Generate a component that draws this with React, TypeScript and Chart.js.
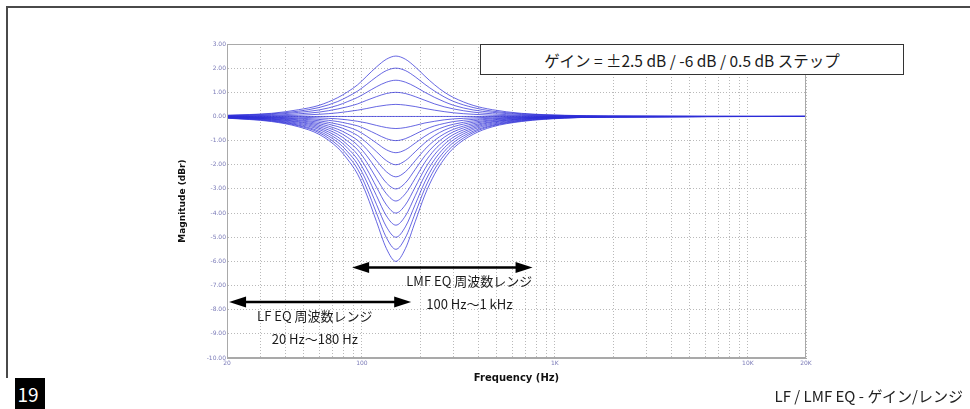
import React, { useEffect, useRef } from 'react';
import { Chart, registerables } from 'chart.js';

Chart.register(...registerables);

const FREQ_HZ = [20, 34, 47, 60, 75, 84, 95, 106, 119, 134, 150, 168, 189, 212, 238, 267, 299, 377, 474, 670, 1125, 1888, 20000];

// Gain settings (dB), one curve each
const GAIN_STEPS_DB = [2.5, 2, 1.5, 1, 0.5, 0, -0.5, -1, -1.5, -2, -2.5, -3, -3.5, -4, -4.5, -5, -5.5, -6];

// Magnitude (dBr) per curve
const RESP_P2_5 = [0.05, 0.13, 0.28, 0.46, 0.78, 1.01, 1.31, 1.67, 2.05, 2.37, 2.5, 2.37, 2.05, 1.67, 1.31, 1.01, 0.78, 0.46, 0.28, 0.13, 0.05, 0.02, 0];
const RESP_P2_0 = [0.04, 0.11, 0.22, 0.37, 0.62, 0.81, 1.05, 1.33, 1.64, 1.9, 2.0, 1.9, 1.64, 1.33, 1.05, 0.81, 0.62, 0.37, 0.22, 0.11, 0.04, 0.01, 0];
const RESP_P1_5 = [0.03, 0.08, 0.17, 0.27, 0.46, 0.61, 0.79, 1.0, 1.23, 1.42, 1.5, 1.42, 1.23, 1.0, 0.79, 0.61, 0.46, 0.27, 0.17, 0.08, 0.03, 0.01, 0];
const RESP_P1_0 = [0.02, 0.05, 0.11, 0.18, 0.31, 0.4, 0.52, 0.67, 0.82, 0.95, 1.0, 0.95, 0.82, 0.67, 0.52, 0.4, 0.31, 0.18, 0.11, 0.05, 0.02, 0.01, 0];
const RESP_P0_5 = [0.01, 0.03, 0.05, 0.09, 0.15, 0.2, 0.26, 0.33, 0.41, 0.47, 0.5, 0.47, 0.41, 0.33, 0.26, 0.2, 0.15, 0.09, 0.05, 0.03, 0.01, 0, 0];
const RESP_0_0 = [0, 0, 0, 0, 0, 0, 0, 0, 0, 0, 0, 0, 0, 0, 0, 0, 0, 0, 0, 0, 0, 0, 0];
const RESP_M0_5 = [-0.01, -0.02, -0.03, -0.06, -0.1, -0.14, -0.2, -0.27, -0.37, -0.46, -0.5, -0.46, -0.37, -0.27, -0.2, -0.14, -0.1, -0.06, -0.03, -0.02, -0.01, 0, 0];
const RESP_M1_0 = [-0.01, -0.03, -0.07, -0.12, -0.21, -0.29, -0.39, -0.54, -0.73, -0.92, -1.0, -0.92, -0.73, -0.54, -0.39, -0.29, -0.21, -0.12, -0.07, -0.03, -0.01, 0, 0];
const RESP_M1_5 = [-0.02, -0.05, -0.1, -0.18, -0.32, -0.43, -0.59, -0.82, -1.1, -1.38, -1.5, -1.38, -1.1, -0.82, -0.59, -0.43, -0.32, -0.18, -0.1, -0.05, -0.02, -0.01, 0];
const RESP_M2_0 = [-0.02, -0.06, -0.14, -0.24, -0.42, -0.57, -0.79, -1.09, -1.46, -1.83, -2.0, -1.83, -1.46, -1.09, -0.79, -0.57, -0.42, -0.24, -0.14, -0.06, -0.02, -0.01, 0];
const RESP_M2_5 = [-0.03, -0.08, -0.17, -0.3, -0.53, -0.72, -0.99, -1.36, -1.83, -2.29, -2.5, -2.29, -1.83, -1.36, -0.99, -0.72, -0.53, -0.3, -0.17, -0.08, -0.03, -0.01, 0];
const RESP_M3_0 = [-0.03, -0.1, -0.21, -0.36, -0.63, -0.86, -1.19, -1.63, -2.19, -2.75, -3.0, -2.75, -2.19, -1.63, -1.19, -0.86, -0.63, -0.36, -0.21, -0.1, -0.03, -0.01, 0];
const RESP_M3_5 = [-0.04, -0.11, -0.24, -0.42, -0.74, -1.01, -1.38, -1.9, -2.56, -3.2, -3.5, -3.2, -2.56, -1.9, -1.38, -1.01, -0.74, -0.42, -0.24, -0.11, -0.04, -0.01, 0];
const RESP_M4_0 = [-0.04, -0.13, -0.28, -0.48, -0.85, -1.16, -1.58, -2.17, -2.92, -3.66, -4.0, -3.66, -2.92, -2.17, -1.58, -1.16, -0.85, -0.48, -0.28, -0.13, -0.04, -0.02, 0];
const RESP_M4_5 = [-0.05, -0.15, -0.32, -0.54, -0.96, -1.3, -1.78, -2.44, -3.28, -4.12, -4.5, -4.12, -3.28, -2.44, -1.78, -1.3, -0.96, -0.54, -0.32, -0.15, -0.05, -0.02, 0];
const RESP_M5_0 = [-0.06, -0.17, -0.36, -0.61, -1.07, -1.45, -1.98, -2.71, -3.64, -4.57, -5.0, -4.57, -3.64, -2.71, -1.98, -1.45, -1.07, -0.61, -0.36, -0.17, -0.06, -0.02, 0];
const RESP_M5_5 = [-0.06, -0.19, -0.39, -0.67, -1.19, -1.6, -2.18, -2.98, -4.0, -5.02, -5.5, -5.02, -4.0, -2.98, -2.18, -1.6, -1.19, -0.67, -0.39, -0.19, -0.06, -0.02, 0];
const RESP_M6_0 = [-0.07, -0.21, -0.43, -0.74, -1.3, -1.76, -2.39, -3.25, -4.35, -5.47, -6.0, -5.47, -4.35, -3.25, -2.39, -1.76, -1.3, -0.74, -0.43, -0.21, -0.07, -0.02, 0];

const RESPONSES = [
  RESP_P2_5, RESP_P2_0, RESP_P1_5, RESP_P1_0, RESP_P0_5, RESP_0_0,
  RESP_M0_5, RESP_M1_0, RESP_M1_5, RESP_M2_0, RESP_M2_5, RESP_M3_0,
  RESP_M3_5, RESP_M4_0, RESP_M4_5, RESP_M5_0, RESP_M5_5, RESP_M6_0,
];

// Axes
const Y_TICKS_DB = [3, 2, 1, 0, -1, -2, -3, -4, -5, -6, -7, -8, -9, -10];
const X_GRID_HZ = [20, 30, 40, 50, 60, 70, 80, 90, 100, 200, 300, 400, 500, 600, 700, 800, 900, 1000, 2000, 3000, 4000, 5000, 6000, 7000, 8000, 9000, 10000, 20000];
const X_LABEL_HZ = [20, 100, 1000, 10000, 20000];
const X_LABEL_TEXT = ['20', '100', '1K', '10K', '20K'];

// Range annotations
const LMF_RANGE_HZ = [89, 766];
const LMF_ARROW_DB = -6.25;
const LMF_LABEL_HZ = 360;
const LMF_LABEL = ['LMF EQ 周波数レンジ', '100 Hz〜1 kHz'];
const LF_RANGE_HZ = [20.5, 180];
const LF_ARROW_DB = -7.68;
const LF_LABEL_HZ = 57;
const LF_LABEL = ['LF EQ 周波数レンジ', '20 Hz〜180 Hz'];

const LEGEND_TEXT = 'ゲイン = ±2.5 dB / -6 dB / 0.5 dB ステップ';
const PAGE_NUMBER = '19';
const FOOTER_TITLE = 'LF / LMF EQ - ゲイン/レンジ';

const Y_LEFT_PAD = 177;

function drawArrow(ctx: CanvasRenderingContext2D, x1: number, x2: number, y: number) {
  const head = 17;
  const half = 5.5;
  ctx.beginPath();
  ctx.moveTo(x1 + head - 2, y);
  ctx.lineTo(x2 - head + 2, y);
  ctx.stroke();
  ctx.beginPath();
  ctx.moveTo(x1, y);
  ctx.lineTo(x1 + head, y - half);
  ctx.lineTo(x1 + head, y + half);
  ctx.closePath();
  ctx.fill();
  ctx.beginPath();
  ctx.moveTo(x2, y);
  ctx.lineTo(x2 - head, y - half);
  ctx.lineTo(x2 - head, y + half);
  ctx.closePath();
  ctx.fill();
}

const annotPlugin = {
  id: 'annot',
  afterDatasetsDraw(chart: any) {
    const { ctx, chartArea: a, scales } = chart;
    const xs = scales.x;
    const ys = scales.y;
    ctx.save();
    ctx.strokeStyle = '#a9a9a9';
    ctx.lineWidth = 1;
    ctx.strokeRect(a.left + 0.5, a.top + 0.5, a.right - a.left - 1, a.bottom - a.top - 1);

    ctx.strokeStyle = '#000';
    ctx.fillStyle = '#000';
    ctx.lineWidth = 2.5;
    const groups = [
      { r: LMF_RANGE_HZ, db: LMF_ARROW_DB, lx: LMF_LABEL_HZ, label: LMF_LABEL },
      { r: LF_RANGE_HZ, db: LF_ARROW_DB, lx: LF_LABEL_HZ, label: LF_LABEL },
    ];
    groups.forEach((g) => {
      const x1 = xs.getPixelForValue(g.r[0]);
      const x2 = xs.getPixelForValue(g.r[1]);
      const y = ys.getPixelForValue(g.db);
      drawArrow(ctx, x1, x2, y);
      const tx = xs.getPixelForValue(g.lx);
      ctx.font = '13px "Noto Sans CJK JP"';
      ctx.fillStyle = '#1a1a1a';
      ctx.textAlign = 'center';
      ctx.textBaseline = 'middle';
      ctx.fillText(g.label[0], tx, y + 14);
      ctx.fillText(g.label[1], tx, y + 37);
      ctx.fillStyle = '#000';
    });
    ctx.restore();
  },
};

export default function App() {
  const ref = useRef<HTMLCanvasElement | null>(null);

  useEffect(() => {
    if (!ref.current) return;
    const datasets = RESPONSES.map((resp, i) => ({
      label: `${GAIN_STEPS_DB[i]} dB`,
      data: FREQ_HZ.map((f, j) => ({ x: f, y: resp[j] })),
      borderColor: 'rgba(45, 45, 215, 0.72)',
      borderWidth: 1,
      pointRadius: 0,
      fill: false,
      cubicInterpolationMode: 'monotone' as const,
    }));

    const chart = new Chart(ref.current, {
      type: 'line',
      data: { datasets },
      options: {
        animation: false,
        responsive: false,
        maintainAspectRatio: false,
        events: [],
        layout: { padding: { left: Y_LEFT_PAD, right: 164, top: 44, bottom: 25 } },
        plugins: { legend: { display: false }, tooltip: { enabled: false } },
        scales: {
          x: {
            type: 'logarithmic',
            min: 20,
            max: 20000,
            afterBuildTicks: (s: any) => {
              s.ticks = X_GRID_HZ.map((v) => ({ value: v }));
            },
            afterFit: (s: any) => {
              s.height = 26;
            },
            ticks: {
              autoSkip: false,
              maxRotation: 0,
              minRotation: 0,
              padding: 2,
              color: '#7b7bb8',
              font: { size: 6, family: 'DejaVu Sans' },
              callback: (v: any) => {
                const k = X_LABEL_HZ.indexOf(Number(v));
                return k >= 0 ? X_LABEL_TEXT[k] : '';
              },
            },
            grid: { color: '#b9b9b9', drawTicks: false, lineWidth: 1 },
            border: { display: true, color: '#a9a9a9', dash: [1, 2] },
            title: {
              display: true,
              text: 'Frequency (Hz)',
              color: '#111',
              padding: 0,
              font: { size: 10, weight: 'bold', family: 'DejaVu Sans' },
            },
          },
          y: {
            type: 'linear',
            min: -10,
            max: 3,
            afterBuildTicks: (s: any) => {
              s.ticks = Y_TICKS_DB.map((v) => ({ value: v }));
            },
            afterFit: (s: any) => {
              s.width = 227 - Y_LEFT_PAD;
            },
            ticks: {
              padding: 1,
              color: '#7b7bb8',
              font: { size: 6, family: 'DejaVu Sans' },
              callback: (v: any) => Number(v).toFixed(2),
            },
            grid: { color: '#b9b9b9', drawTicks: false, lineWidth: 1 },
            border: { display: true, color: '#a9a9a9', dash: [1, 2] },
            title: {
              display: true,
              text: 'Magnitude (dBr)',
              color: '#111',
              padding: 0,
              font: { size: 9, weight: 'bold', family: 'DejaVu Sans' },
            },
          },
        },
      },
      plugins: [annotPlugin],
    });
    return () => chart.destroy();
  }, []);

  return (
    <div style={{ position: 'fixed', left: 0, top: 0, width: 970, height: 409, background: '#fff', overflow: 'hidden' }}>
      <canvas ref={ref} width={970} height={409} style={{ position: 'absolute', left: 0, top: 0, width: 970, height: 409 }} />
      <div style={{ position: 'absolute', left: 6, top: 6, width: 980, height: 372, borderTop: '2px solid #4a4a4a', borderLeft: '2px solid #4a4a4a', boxSizing: 'border-box' }} />
      <div
        style={{
          position: 'absolute', left: 480, top: 44, width: 424, height: 31, boxSizing: 'border-box',
          border: '1.5px solid #333', background: '#fff', display: 'flex', alignItems: 'center', justifyContent: 'center',
          fontFamily: '"Noto Sans CJK JP"', fontSize: 15.5, color: '#1a1a1a', whiteSpace: 'nowrap',
        }}
      >
        {LEGEND_TEXT}
      </div>
      <div
        style={{
          position: 'absolute', left: 15, top: 378, width: 30, height: 31, background: '#000', color: '#fff',
          fontFamily: '"Noto Sans CJK JP"', fontSize: 19, lineHeight: '31px', textAlign: 'center', boxSizing: 'border-box', paddingRight: 4,
        }}
      >
        {PAGE_NUMBER}
      </div>
      <div
        style={{
          position: 'absolute', right: 7, top: 385, fontFamily: '"Noto Sans CJK JP"', fontSize: 15, lineHeight: '22px',
          color: '#222', whiteSpace: 'nowrap',
        }}
      >
        {FOOTER_TITLE}
      </div>
    </div>
  );
}
